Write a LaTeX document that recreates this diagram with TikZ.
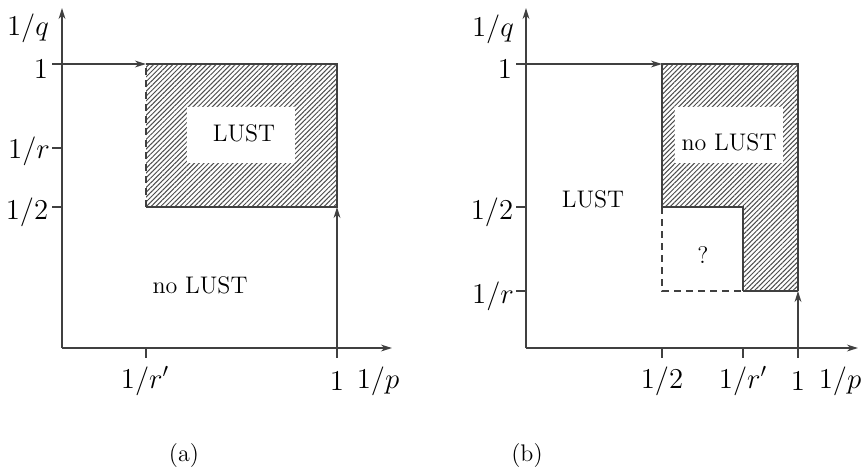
\documentclass[tikz,border=0pt]{standalone}
\usetikzlibrary{patterns.meta,arrows.meta}
\begin{document}
\begin{tikzpicture}[x=0.5pt,y=-0.5pt,
  ln/.style={draw=black!75,line width=1pt},
  dsh/.style={draw=black!75,line width=0.9pt,dash pattern=on 3.5pt off 2.5pt},
  arr/.style={ln,-{Stealth[length=5.5pt,width=3.4pt]}},
  hatch/.style={pattern={Lines[angle=45,distance=1.7pt,line width=0.5pt]},pattern color=black!70},
  lab/.style={font=\fontsize{13.8}{16}\selectfont,inner sep=0pt},
  txt/.style={font=\fontsize{12}{14}\selectfont,inner sep=0pt},
  captxt/.style={font=\fontsize{12}{14}\selectfont,inner sep=0pt}]
\useasboundingbox (0,0) rectangle (862,473);
% ---------- (a) ----------
\coordinate (Oa) at (62,348);
\coordinate (Ya) at (62,8);
\coordinate (Xa) at (392,348);
\coordinate (A1) at (146,64);
\coordinate (A2) at (337,64);
\coordinate (A3) at (337,207);
\coordinate (A4) at (146,207);
\coordinate (Ab) at (337,348);
\path[hatch] (A1) rectangle (A3);
\fill[white] (187,107) rectangle (295,163);
\draw[arr] (Oa) -- (Ya);
\draw[arr] (Oa) -- (Xa);
\draw[ln] (52,64) -- (62,64);
\draw[ln] (52,148) -- (62,148);
\draw[ln] (52,207) -- (62,207);
\draw[ln] (146,348) -- (146,358);
\draw[ln] (337,348) -- (337,358);
\draw[arr] (62,64) -- (A1);
\draw[ln] (A1) -- (A2) -- (A3) -- (A4);
\draw[dsh] (A4) -- (A1);
\draw[arr] (Ab) -- (A3);
\node[lab] (qa) at (28,28) {$1/q$};
\node[lab] (ya1) at (41,69) {$1$};
\node[lab] (yar) at (29,151) {$1/r$};
\node[lab] (ya2) at (27,212) {$1/2$};
\node[lab] (xar) at (145,381) {$1/r'$};
\node[lab] (xa1) at (337,381) {$1$};
\node[lab] (pa) at (378,381) {$1/p$};
\node[txt] (lusta) at (244,133) {LUST};
\node[txt] (nolusta) at (200,285) {no LUST};
\node[captxt] (capa) at (184,455) {(a)};
% ---------- (b) ----------
\coordinate (Ob) at (526,348);
\coordinate (Yb) at (526,8);
\coordinate (Xb) at (858,348);
\coordinate (B1) at (662,64);
\coordinate (B2) at (798,64);
\coordinate (B3) at (798,291);
\coordinate (B4) at (743,291);
\coordinate (B5) at (743,207);
\coordinate (B6) at (662,207);
\coordinate (B7) at (662,291);
\coordinate (Bb) at (798,348);
\path[hatch] (B1) -- (B2) -- (B3) -- (B4) -- (B5) -- (B6) -- cycle;
\fill[white] (675,107) rectangle (783,163);
\draw[arr] (Ob) -- (Yb);
\draw[arr] (Ob) -- (Xb);
\draw[ln] (516,64) -- (526,64);
\draw[ln] (516,207) -- (526,207);
\draw[ln] (516,291) -- (526,291);
\draw[ln] (662,348) -- (662,358);
\draw[ln] (743,348) -- (743,358);
\draw[ln] (798,348) -- (798,358);
\draw[arr] (526,64) -- (B1);
\draw[ln] (B6) -- (B1) -- (B2) -- (B3);
\draw[ln] (B6) -- (B5) -- (B4);
\draw[ln] (B4) -- (B3);
\draw[dsh] (B6) -- (B7) -- (B4);
\draw[arr] (Bb) -- (B3);
\node[lab] (qb) at (493,29) {$1/q$};
\node[lab] (yb1) at (505,69) {$1$};
\node[lab] (yb2) at (492,212) {$1/2$};
\node[lab] (ybr) at (493,296) {$1/r$};
\node[lab] (xb2) at (662,381) {$1/2$};
\node[lab] (xbr) at (743,381) {$1/r'$};
\node[lab] (xb1) at (798,381) {$1$};
\node[lab] (pb) at (840,381) {$1/p$};
\node[txt] (nolustb) at (729,142) {no LUST};
\node[txt] (lustb) at (593,199) {LUST};
\node[txt] (qm) at (703,255) {?};
\node[captxt] (capb) at (527,455) {(b)};
\end{tikzpicture}
\end{document}
